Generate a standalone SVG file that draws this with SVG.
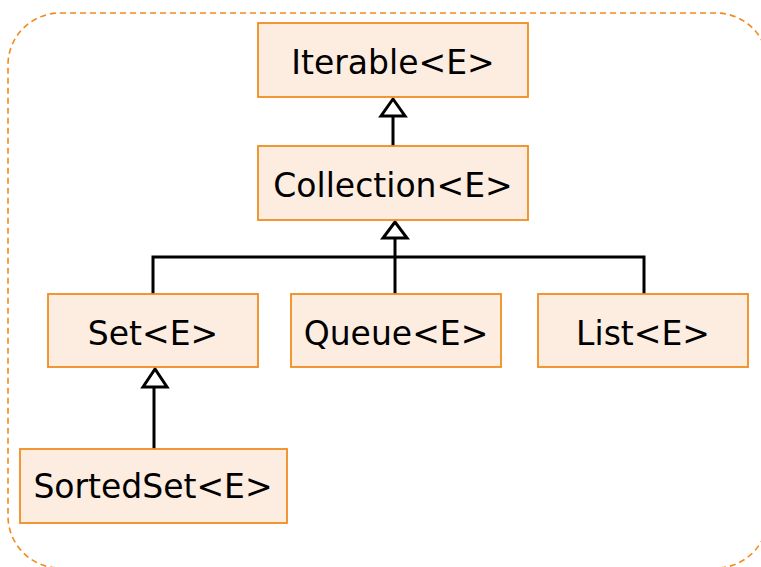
<svg xmlns="http://www.w3.org/2000/svg" width="761" height="567" viewBox="0 0 761 567">
  <style>
    .frame { fill: none; stroke: #F08A1C; stroke-width: 1.6; stroke-dasharray: 6 4; }
    .box { fill: #FDEDE1; stroke: #F08C20; stroke-width: 1.8; }
    .label { font-family: "DejaVu Sans", sans-serif; font-size: 33px; fill: #000; text-anchor: middle; }
    .edge { fill: none; stroke: #000; stroke-width: 3; }
    .head { fill: #fff; stroke: #000; stroke-width: 3; stroke-linejoin: miter; }
  </style>
  <rect width="761" height="567" fill="#fff"/>
  <!-- dashed boundary -->
  <rect class="frame" x="8" y="13" width="760" height="555" rx="52" ry="52"/>

  <g id="connectors">
    <!-- Collection -> Iterable -->
    <line class="edge" x1="393" y1="147" x2="393" y2="115"/>
    <polygon class="head" points="393,99 381,116 405,116"/>
    <!-- Set / Queue / List -> Collection -->
    <polyline class="edge" points="153,294 153,257 644,257 644,294"/>
    <line class="edge" x1="395" y1="294" x2="395" y2="237"/>
    <polygon class="head" points="395,222 383,238 407,238"/>
    <!-- SortedSet -> Set -->
    <line class="edge" x1="154" y1="449" x2="154" y2="386"/>
    <polygon class="head" points="155,369 143,387 167,387"/>
  </g>

  <g id="iterable">
    <rect class="box" x="258" y="23" width="270" height="74"/>
    <text class="label" x="393" y="74">Iterable&lt;E&gt;</text>
  </g>
  <g id="collection">
    <rect class="box" x="258" y="146" width="270" height="74"/>
    <text class="label" x="393" y="197">Collection&lt;E&gt;</text>
  </g>
  <g id="set">
    <rect class="box" x="48" y="294" width="210" height="73"/>
    <text class="label" x="153" y="345">Set&lt;E&gt;</text>
  </g>
  <g id="queue">
    <rect class="box" x="291" y="294" width="210" height="73"/>
    <text class="label" x="396" y="345">Queue&lt;E&gt;</text>
  </g>
  <g id="list">
    <rect class="box" x="538" y="294" width="210" height="73"/>
    <text class="label" x="643" y="345">List&lt;E&gt;</text>
  </g>
  <g id="sortedset">
    <rect class="box" x="20" y="449" width="267" height="74"/>
    <text class="label" x="153" y="498">SortedSet&lt;E&gt;</text>
  </g>
</svg>
